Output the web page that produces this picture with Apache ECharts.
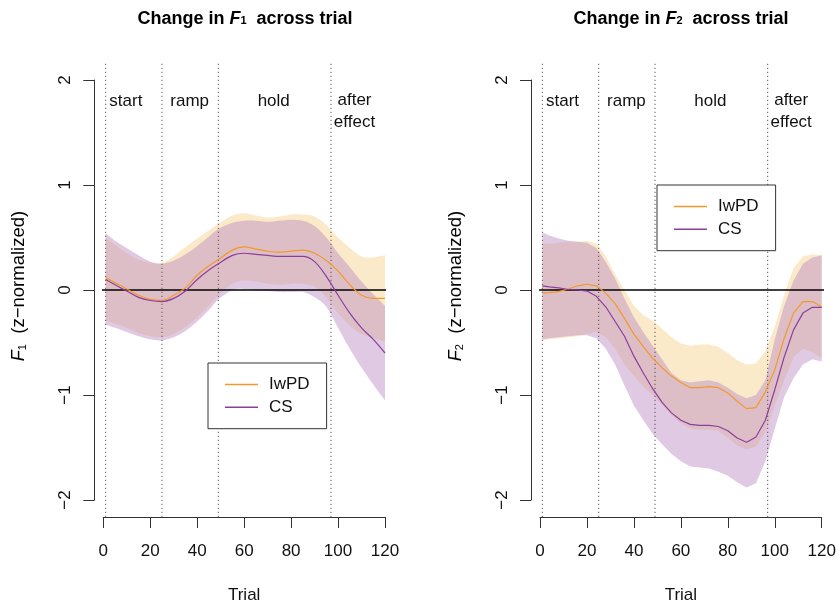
<!DOCTYPE html>
<html><head><meta charset="utf-8">
<script src="https://cdn.jsdelivr.net/npm/echarts@6/dist/echarts.min.js"></script>
<style>html,body{margin:0;padding:0;background:#fff}#c{width:839px;height:601px}</style>
</head><body><div id="c"></div>
<script>
// ---------------- data ----------------
const groupNames = ['IwPD', 'CS'];

// F1 panel (smooth curves)
const trialsF1 = [1,5,10,15,20,25,30,35,40,45,49,55,60,65,70,75,80,85,90,95,100,105,110,115,120];
const f1IwPDMean  = [0.12,0.07,0.01,-0.05,-0.09,-0.10,-0.05,0.02,0.14,0.23,0.29,0.38,0.41,0.39,0.37,0.36,0.37,0.38,0.35,0.28,0.18,0.05,-0.05,-0.08,-0.08];
const f1IwPDUpper = [0.50,0.43,0.35,0.29,0.26,0.26,0.32,0.41,0.49,0.57,0.63,0.71,0.73,0.71,0.69,0.70,0.72,0.72,0.70,0.62,0.50,0.40,0.32,0.31,0.33];
const f1IwPDLower = [-0.29,-0.32,-0.36,-0.41,-0.44,-0.45,-0.42,-0.35,-0.26,-0.15,-0.05,0.06,0.09,0.08,0.06,0.05,0.06,0.06,0.03,-0.07,-0.22,-0.34,-0.42,-0.46,-0.49];
const f1CSMean  = [0.10,0.05,-0.01,-0.07,-0.10,-0.11,-0.08,-0.01,0.10,0.19,0.25,0.33,0.35,0.34,0.33,0.32,0.32,0.32,0.27,0.13,-0.05,-0.22,-0.36,-0.47,-0.60];
const f1CSUpper = [0.54,0.47,0.40,0.33,0.27,0.25,0.28,0.34,0.42,0.51,0.58,0.64,0.66,0.66,0.65,0.66,0.67,0.66,0.61,0.50,0.35,0.22,0.08,-0.04,-0.15];
const f1CSLower = [-0.33,-0.36,-0.40,-0.44,-0.47,-0.48,-0.45,-0.39,-0.30,-0.19,-0.09,0.00,0.01,0.00,-0.01,-0.02,-0.02,-0.02,-0.07,-0.16,-0.36,-0.56,-0.74,-0.90,-1.05];

// F2 panel (polylines)
const trialsF2 = [1,4,8,12,16,20,24,28,32,36,40,44,48,52,56,60,64,68,72,76,80,84,88,92,96,100,104,108,112,116,120];
const f2IwPDMean  = [-0.03,-0.025,-0.015,0.01,0.04,0.055,0.04,-0.03,-0.13,-0.27,-0.42,-0.54,-0.65,-0.74,-0.82,-0.88,-0.93,-0.93,-0.92,-0.93,-0.98,-1.06,-1.13,-1.12,-0.97,-0.76,-0.46,-0.22,-0.11,-0.11,-0.16];
const f2IwPDUpper = [0.44,0.44,0.45,0.46,0.46,0.47,0.44,0.32,0.15,0.00,-0.15,-0.24,-0.29,-0.37,-0.45,-0.51,-0.53,-0.52,-0.52,-0.54,-0.60,-0.67,-0.71,-0.70,-0.58,-0.35,-0.05,0.21,0.32,0.34,0.33];
const f2IwPDLower = [-0.48,-0.47,-0.46,-0.45,-0.44,-0.42,-0.40,-0.45,-0.56,-0.71,-0.82,-0.92,-1.00,-1.09,-1.19,-1.27,-1.32,-1.33,-1.33,-1.34,-1.41,-1.48,-1.52,-1.49,-1.35,-1.10,-0.86,-0.64,-0.56,-0.59,-0.65];
const f2CSMean  = [0.04,0.03,0.02,0.005,0.00,-0.01,-0.06,-0.16,-0.30,-0.44,-0.63,-0.79,-0.94,-1.07,-1.17,-1.24,-1.28,-1.29,-1.29,-1.30,-1.34,-1.41,-1.45,-1.40,-1.24,-0.95,-0.64,-0.38,-0.22,-0.165,-0.165];
const f2CSUpper = [0.55,0.52,0.49,0.47,0.46,0.45,0.40,0.27,0.11,-0.08,-0.26,-0.40,-0.53,-0.66,-0.79,-0.86,-0.88,-0.87,-0.86,-0.88,-0.93,-0.99,-1.03,-1.00,-0.86,-0.47,-0.15,0.09,0.25,0.31,0.33];
const f2CSLower = [-0.47,-0.46,-0.45,-0.44,-0.43,-0.43,-0.46,-0.56,-0.71,-0.91,-1.10,-1.24,-1.37,-1.47,-1.56,-1.63,-1.68,-1.69,-1.70,-1.73,-1.77,-1.83,-1.88,-1.84,-1.63,-1.32,-1.02,-0.84,-0.71,-0.66,-0.68];

// axes / annotations
const xTicks = [0,20,40,60,80,100,120];
const yTicks = [-2,-1,0,1,2];
const yTickLabels = ['\u22122','\u22121','0','1','2'];
const xRange = [-4.8, 124.8];   // full plotting region
const yRange = [-2.16, 2.16];
const phaseBounds = [1,25,49,97];
const phaseLabels = ['start','ramp','hold','after\neffect'];
const phaseLabelX = [9.6,36.8,72.6,107];
const phaseLabelY = [1.8,1.8,1.8,1.7];
const panelTitleSub = ['1','2'];

// ---------------- styling ----------------
const FONT = '"Liberation Sans", Arial, Helvetica, sans-serif';
const TXT = '#111';
const LINE_COL = {IwPD: '#F09A2A', CS: '#8A3F9E'};
const BAND_COL = {IwPD: 'rgba(240,170,40,0.25)', CS: 'rgba(190,140,195,0.47)'};

const panels = [
  {trials: trialsF1, smooth: true, g: {
    IwPD: {mean: f1IwPDMean, hi: f1IwPDUpper, lo: f1IwPDLower},
    CS:   {mean: f1CSMean,   hi: f1CSUpper,   lo: f1CSLower}}},
  {trials: trialsF2, smooth: false, g: {
    IwPD: {mean: f2IwPDMean, hi: f2IwPDUpper, lo: f2IwPDLower},
    CS:   {mean: f2CSMean,   hi: f2CSUpper,   lo: f2CSLower}}}
];

const gridLeft = [103.3, 540];
const gridW = 281.7;

function zip(x, y) { return x.map((t, i) => [t, y[i]]); }

// Catmull-Rom rendering path through screen points
function crSegs(p) {
  let s = '';
  for (let i = 0; i < p.length - 1; i++) {
    const p0 = p[Math.max(i - 1, 0)], p1 = p[i], p2 = p[i + 1], p3 = p[Math.min(i + 2, p.length - 1)];
    const c1 = [p1[0] + (p2[0] - p0[0]) / 6, p1[1] + (p2[1] - p0[1]) / 6];
    const c2 = [p2[0] - (p3[0] - p1[0]) / 6, p2[1] - (p3[1] - p1[1]) / 6];
    s += ' C' + c1[0] + ' ' + c1[1] + ' ' + c2[0] + ' ' + c2[1] + ' ' + p2[0] + ' ' + p2[1];
  }
  return s;
}

const grid = [], xAxis = [], yAxis = [], series = [];
panels.forEach((p, k) => {
  grid.push({left: gridLeft[k], width: gridW, top: 80, height: 420, outerBoundsMode: 'none', containLabel: false});
  xAxis.push({
    type: 'value', gridIndex: k, min: 0, max: 120, interval: 20, position: 'bottom', offset: 17,
    name: 'Trial', nameLocation: 'middle', nameGap: 70,
    nameTextStyle: {fontSize: 17, color: TXT, fontFamily: FONT},
    axisLine: {show: true, onZero: false, lineStyle: {color: '#333', width: 1}},
    axisTick: {show: true, length: 11, lineStyle: {color: '#333', width: 1}},
    axisLabel: {fontSize: 17, color: TXT, fontFamily: FONT, margin: 26,
      formatter: v => String(xTicks[xTicks.indexOf(v)])},
    splitLine: {show: false}
  });
  yAxis.push({
    type: 'value', gridIndex: k, min: -2, max: 2, interval: 1, position: 'left', offset: 9,
    axisLine: {show: true, onZero: false, lineStyle: {color: '#333', width: 1}},
    axisTick: {show: true, length: 11, lineStyle: {color: '#333', width: 1}},
    axisLabel: {fontSize: 17, color: TXT, fontFamily: FONT, rotate: 90, margin: 20,
      formatter: v => yTickLabels[yTicks.indexOf(v)]},
    splitLine: {show: false}
  });

  // confidence bands
  groupNames.forEach((gname) => {
    const d = p.g[gname];
    series.push({
      type: 'custom', xAxisIndex: k, yAxisIndex: k, silent: true, z: 1,
      data: [[p.trials[0], d.lo[0]]],
      renderItem: (params, api) => {
        const up = p.trials.map((t, i) => api.coord([t, d.hi[i]]));
        const lo = p.trials.map((t, i) => api.coord([t, d.lo[i]])).reverse();
        if (p.smooth) {
          const path = 'M' + up[0][0] + ' ' + up[0][1] + crSegs(up) + ' L' + lo[0][0] + ' ' + lo[0][1] + crSegs(lo) + ' Z';
          return {type: 'path', shape: {pathData: path}, style: {fill: BAND_COL[gname]}};
        }
        return {type: 'polygon', shape: {points: up.concat(lo)}, style: {fill: BAND_COL[gname]}};
      }
    });
  });

  // zero reference line
  series.push({type: 'line', xAxisIndex: k, yAxisIndex: k, data: [[xRange[0], 0], [xRange[1], 0]],
    clip: false, symbol: 'none', silent: true, z: 3, lineStyle: {color: '#000', width: 1.3, opacity: 1}});
  // phase boundaries
  phaseBounds.forEach(b => series.push({type: 'line', xAxisIndex: k, yAxisIndex: k,
    data: [[b, yRange[0]], [b, yRange[1]]], clip: false, symbol: 'none', silent: true, z: 3,
    lineStyle: {color: '#333', width: 1, type: [1, 3]}}));

  // mean lines
  groupNames.forEach(gname => series.push({
    type: 'line', name: gname, xAxisIndex: k, yAxisIndex: k, z: 4,
    data: zip(p.trials, p.g[gname].mean), smooth: p.smooth ? 0.35 : false, symbol: 'none',
    lineStyle: {color: LINE_COL[gname], width: 1.2}, itemStyle: {color: LINE_COL[gname]}
  }));

  // phase labels
  series.push({
    type: 'scatter', xAxisIndex: k, yAxisIndex: k, silent: true, z: 5, symbolSize: 1,
    itemStyle: {color: 'rgba(0,0,0,0)', opacity: 1},
    data: phaseLabels.map((s, i) => ({name: s, value: [phaseLabelX[i], phaseLabelY[i]]})),
    label: {show: true, position: 'inside', formatter: '{b}', fontSize: 17, color: TXT, opacity: 1,
      fontFamily: FONT, lineHeight: 21.5, align: 'center'}
  });
});

function titleText(sub) {
  return '{b|Change in }{f|F}{s|' + sub + '}{b|  across trial}';
}
const titleRich = {
  b: {fontSize: 18, fontWeight: 'bold', fontFamily: FONT, color: TXT},
  f: {fontSize: 18, fontWeight: 'bold', fontStyle: 'italic', fontFamily: FONT, color: TXT},
  s: {fontSize: 11, fontWeight: 'bold', fontFamily: FONT, color: TXT, verticalAlign: 'bottom', padding: [0, 0, 2, 0]}
};
const ylabRich = {
  f: {fontSize: 18, fontStyle: 'italic', fontFamily: FONT, color: TXT},
  s: {fontSize: 11, fontFamily: FONT, color: TXT, verticalAlign: 'bottom'},
  t: {fontSize: 18.5, fontFamily: FONT, color: TXT}
};

const legendBase = {
  orient: 'vertical', data: groupNames, icon: 'rect', itemWidth: 33, itemHeight: 1.4,
  itemGap: 5.7, padding: [13, 17, 13, 17], borderColor: '#333', borderWidth: 1, borderRadius: 0,
  backgroundColor: '#fff', selectedMode: false,
  textStyle: {fontSize: 17, color: TXT, fontFamily: FONT, padding: [0, 0, 0, 6]}
};

const option = {
  animation: false,
  backgroundColor: '#fff',
  grid, xAxis, yAxis, series,
  legend: [
    Object.assign({}, legendBase, {left: 208, top: 363}),
    Object.assign({}, legendBase, {left: 657, top: 185})
  ],
  graphic: [
    {type: 'text', x: 245, y: 19, style: {text: titleText(panelTitleSub[0]), rich: titleRich, align: 'center', verticalAlign: 'middle'}},
    {type: 'text', x: 681, y: 19, style: {text: titleText(panelTitleSub[1]), rich: titleRich, align: 'center', verticalAlign: 'middle'}},
    {type: 'text', x: 19, y: 286, rotation: Math.PI / 2, style: {text: '{f|F}{s|1}{t|  (z\u2212normalized)}', rich: ylabRich, align: 'center', verticalAlign: 'middle'}},
    {type: 'text', x: 456, y: 286, rotation: Math.PI / 2, style: {text: '{f|F}{s|2}{t|  (z\u2212normalized)}', rich: ylabRich, align: 'center', verticalAlign: 'middle'}}
  ]
};

const chart = echarts.init(document.getElementById('c'), null, {renderer: 'canvas'});
chart.setOption(option);
</script>
</body></html>
